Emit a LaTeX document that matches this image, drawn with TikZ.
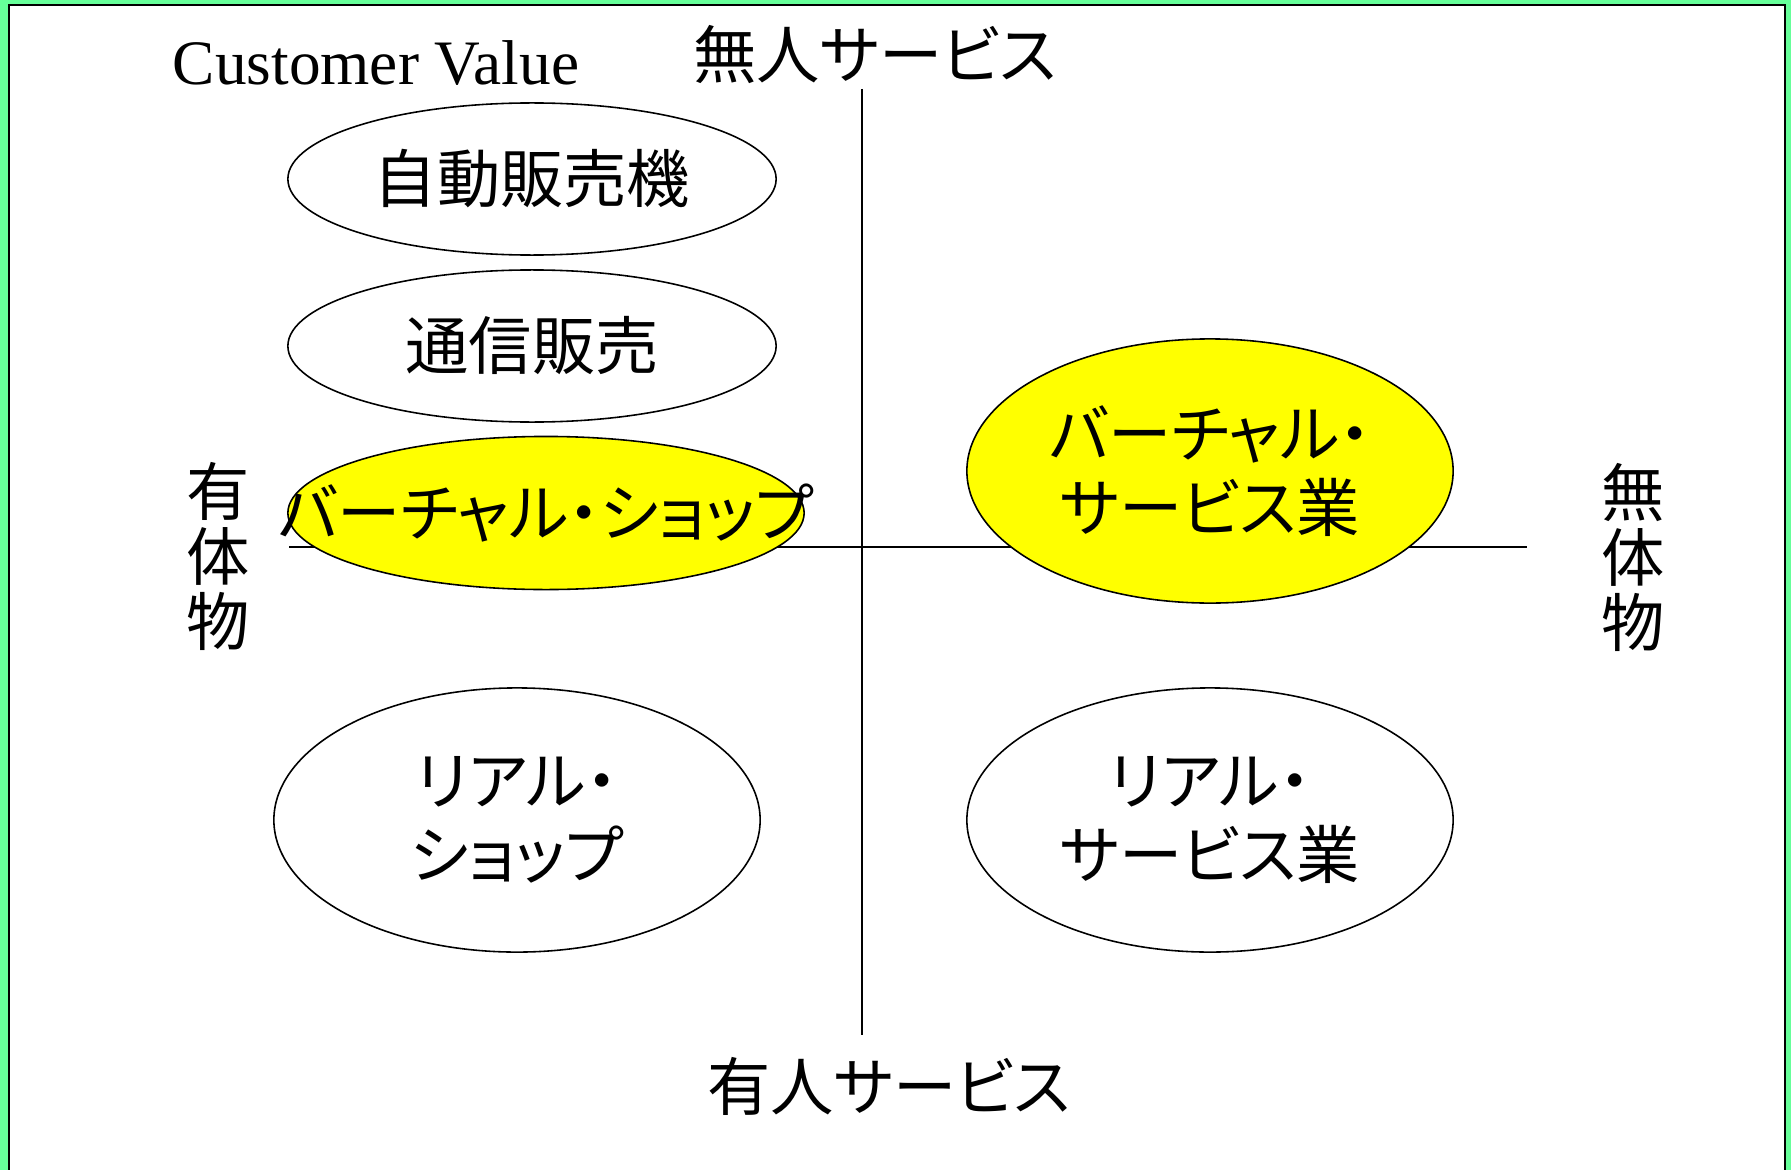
\documentclass[tikz,border=0pt]{standalone}
\usepackage{fontspec}
\setmainfont{Liberation Serif}
\newfontfamily\jp[RawFeature=+palt]{Noto Sans CJK JP}
\usetikzlibrary{shapes.geometric}
\definecolor{frame}{HTML}{66FF99}
\definecolor{marker}{HTML}{FFFF00}
\begin{document}
\begin{tikzpicture}[x=0.01cm, y=-0.01cm,
    every node/.style={inner sep=0pt},
    jtext/.style={font=\jp\fontsize{18}{21}\selectfont, align=center},
    oval/.style={ellipse, draw, line width=0.45pt},
    small/.style={oval, minimum width=4.88cm, minimum height=1.52cm},
    big/.style={oval, minimum width=4.86cm, minimum height=2.64cm}]
    % Frame
    \useasboundingbox (0,0) rectangle (1791,1170);
    \fill[frame] (0,0) rectangle (1791,1170);
    \draw[line width=0.6pt, fill=white] (9,5) rectangle (1785,1190);

    % Axes
    \coordinate (left) at (289,547);
    \coordinate (right) at (1527,547);
    \coordinate (top) at (862,89);
    \coordinate (bottom) at (862,1035);
    \draw[line width=0.35pt] (left) -- (right);
    \draw[line width=0.35pt] (top) -- (bottom);

    % Axis labels
    \node (cv) at (376,63) {\fontsize{18}{21}\selectfont Customer Value};
    \node (unmanned) [jtext] at (875,55) {無人サービス};
    \node (manned) [jtext] at (889,1086) {有人サービス};
    \node (tangible) [jtext, font=\jp\fontsize{18}{18.5}\selectfont] at (218,556) {有\\体\\物};
    \node (intangible) [jtext, font=\jp\fontsize{18}{18.5}\selectfont] at (1633,557) {無\\体\\物};

    % Ellipses
    \node (vending) [small, label={[jtext]center:自動販売機}] at (532,179) {};
    \node (mailorder) [small, label={[jtext]center:通信販売}] at (532,346) {};
    \node (vshop) [oval, fill=marker, minimum width=5.16cm, minimum height=1.53cm,
        label={[jtext]center:バーチャル・ショップ}] at (546,513) {};
    \node (vservice) [big, fill=marker, label={[jtext]center:{バーチャル・\\サービス業}}] at (1210,471) {};
    \node (rshop) [big, label={[jtext]center:{リアル・\\ショップ}}] at (517,820) {};
    \node (rservice) [big, label={[jtext]center:{リアル・\\サービス業}}] at (1210,820) {};
\end{tikzpicture}
\end{document}
